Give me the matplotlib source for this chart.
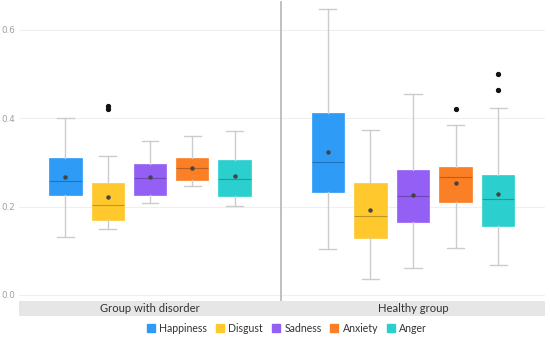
import matplotlib
matplotlib.use("Agg")
import matplotlib.pyplot as plt
from matplotlib.patches import Rectangle, Patch

emotions = ["Happiness", "Disgust", "Sadness", "Anxiety", "Anger"]
colors = ["#2E9BF7", "#FFC92E", "#935FF5", "#FA7F25", "#2BD0CE"]
groups = ["Group with disorder", "Healthy group"]
yticks = [0.0, 0.2, 0.4, 0.6]

# per group: lists over emotions
disorder_whislo = [0.132, 0.150, 0.208, 0.247, 0.201]
disorder_q1     = [0.226, 0.169, 0.227, 0.260, 0.224]
disorder_med    = [0.259, 0.204, 0.265, 0.288, 0.263]
disorder_mean   = [0.266, 0.221, 0.268, 0.288, 0.269]
disorder_q3     = [0.309, 0.254, 0.297, 0.309, 0.305]
disorder_whishi = [0.400, 0.314, 0.348, 0.359, 0.371]
disorder_fliers = [[], [0.420, 0.427], [], [], []]

healthy_whislo = [0.103, 0.036, 0.061, 0.107, 0.068]
healthy_q1     = [0.234, 0.128, 0.166, 0.210, 0.155]
healthy_med    = [0.302, 0.179, 0.225, 0.267, 0.217]
healthy_mean   = [0.324, 0.192, 0.227, 0.254, 0.228]
healthy_q3     = [0.411, 0.254, 0.283, 0.289, 0.271]
healthy_whishi = [0.648, 0.374, 0.455, 0.384, 0.424]
healthy_fliers = [[], [], [], [0.422], [0.464, 0.500]]

data = [
    (disorder_whislo, disorder_q1, disorder_med, disorder_mean, disorder_q3, disorder_whishi, disorder_fliers),
    (healthy_whislo, healthy_q1, healthy_med, healthy_mean, healthy_q3, healthy_whishi, healthy_fliers),
]

W, H = 550, 342
fig = plt.figure(figsize=(W / 100, H / 100), dpi=100)
fig.patch.set_facecolor("white")

ax_left, divider, ax_right = 19, 281, 545
y_top_px, y_bot_px = 2, 301
bottom = (H - y_bot_px) / H
height = (y_bot_px - y_top_px) / H
ylim = (-0.0136, 0.663)

axes = []
for gi, (x0, x1) in enumerate([(ax_left, divider), (divider, ax_right)]):
    ax = fig.add_axes([x0 / W, bottom, (x1 - x0) / W, height])
    axes.append(ax)
    whislo, q1, med, mean, q3, whishi, fliers = data[gi]
    stats = []
    for i in range(len(emotions)):
        stats.append(dict(med=med[i], q1=q1[i], q3=q3[i], whislo=whislo[i],
                          whishi=whishi[i], mean=mean[i], fliers=fliers[i]))
    bp = ax.bxp(stats, positions=range(len(emotions)), widths=0.76,
                capwidths=0.4, patch_artist=True, showmeans=True,
                showfliers=True,
                whiskerprops=dict(color="#cccccc", linewidth=1.0),
                capprops=dict(color="#cccccc", linewidth=1.0),
                medianprops=dict(color="#000000", alpha=0.25, linewidth=0.8),
                meanprops=dict(marker="o", markersize=2.2, markerfacecolor="#444444",
                               markeredgecolor="#444444"),
                flierprops=dict(marker="o", markersize=2.8, markerfacecolor="#111111",
                                markeredgecolor="#111111"))
    for patch, c in zip(bp["boxes"], colors):
        patch.set_facecolor(c)
        patch.set_edgecolor(c)
        patch.set_linewidth(0.5)
    ax.set_xlim(2 - 3.1, 2 + 3.1)
    ax.set_ylim(*ylim)
    ax.set_yticks(yticks)
    ax.yaxis.grid(True, color="#efefef", linewidth=0.8)
    ax.set_axisbelow(True)
    ax.set_xticks([])
    for s in ax.spines.values():
        s.set_visible(False)
    ax.tick_params(axis="y", length=0, labelsize=6.3, labelcolor="#a0a0a0", pad=3)
    if gi == 1:
        ax.tick_params(axis="y", labelleft=False)
        ax.spines["left"].set_visible(True)
        ax.spines["left"].set_color("#b5b5b5")
        ax.spines["left"].set_linewidth(1.2)
    ax.patch.set_alpha(0)

# facet strip
strip = Rectangle((ax_left / W, (H - 316) / H), (ax_right - ax_left) / W, 15 / H,
                  transform=fig.transFigure, facecolor="#e6e6e6", edgecolor="none")
fig.patches.append(strip)
for gi, (x0, x1) in enumerate([(ax_left, divider), (divider, ax_right)]):
    fig.text((x0 + x1) / 2 / W, (H - 308.5) / H, groups[gi], ha="center", va="center",
             fontsize=8.1, color="#333333", family="Lato")

handles = [Patch(facecolor=c, edgecolor=c) for c in colors]
fig.legend(handles, emotions, loc="center", bbox_to_anchor=(287 / W, (H - 328) / H),
           ncol=5, frameon=False, prop=dict(family="Lato", size=7.6),
           handlelength=0.8, handleheight=0.8, handletextpad=0.4, columnspacing=0.8,
           labelcolor="#333333")

fig.savefig("out.png", dpi=100)
